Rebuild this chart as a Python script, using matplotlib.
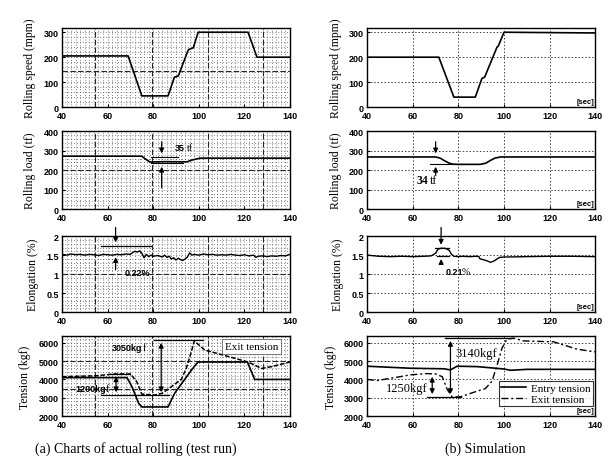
import matplotlib.pyplot as plt
from matplotlib.ticker import MultipleLocator, FormatStrFormatter

# ---- data ----
# (a) actual rolling
t_speed_a = [40, 69, 75, 86.5, 89.3, 91, 95.4, 97.6, 99.7, 121.6, 125.5, 140]
v_speed_a = [205, 205, 45, 45, 120, 125, 230, 238, 300, 300, 200, 200]

t_load_a = [40, 75, 76.5, 78.6, 85, 94.7, 97, 100.5, 140]
v_load_a = [272, 272, 258, 242, 244, 243, 252, 262, 262]

t_elong_a = [40, 42, 44, 46, 48, 50, 52, 54, 56, 58, 60, 62, 64, 66, 68, 70, 71, 72,
             73, 74, 75, 76, 77, 78, 79, 80, 82, 84, 85, 86, 87, 88, 89, 90, 91, 92,
             93, 94, 95, 96, 97, 98, 100, 102, 104, 106, 108, 110, 112, 114, 116, 118,
             120, 122, 124, 125, 126, 128, 130, 132, 134, 136, 138, 140]
v_elong_a = [1.52, 1.50, 1.53, 1.51, 1.52, 1.50, 1.52, 1.51, 1.49, 1.52, 1.51, 1.50,
             1.52, 1.51, 1.53, 1.52, 1.57, 1.60, 1.58, 1.61, 1.55, 1.43, 1.52, 1.46,
             1.50, 1.47, 1.49, 1.45, 1.50, 1.44, 1.47, 1.40, 1.43, 1.37, 1.42, 1.38,
             1.36, 1.40, 1.45, 1.56, 1.50, 1.52, 1.50, 1.53, 1.51, 1.52, 1.50, 1.51,
             1.50, 1.52, 1.50, 1.49, 1.51, 1.48, 1.50, 1.44, 1.47, 1.48, 1.46, 1.48,
             1.47, 1.49, 1.48, 1.52]

t_entry_a = [40, 68.5, 70.7, 73.6, 75, 86.5, 89.4, 93.8, 96.7, 99.6, 121.3, 124.5, 140]
v_entry_a = [4100, 4100, 3600, 2700, 2500, 2500, 3250, 4000, 4500, 4950, 4950, 4000, 4000]

t_exit_a = [40, 55, 63, 70, 72.7, 75, 80.6, 84, 87.9, 92.3, 94.5, 96.7, 98,
            102.6, 110, 121.6, 127.5, 132, 140]
v_exit_a = [4150, 4200, 4300, 4300, 3900, 3200, 3150, 3250, 3600, 4000, 4600, 5500, 6100,
            5600, 5350, 4950, 4600, 4700, 4950]

# (b) simulation
t_speed_b = [40, 71.4, 78, 87.4, 90.3, 91.5, 96.9, 97.5, 100, 140]
v_speed_b = [200, 200, 40, 40, 115, 120, 240, 245, 300, 297]

t_load_b = [40, 70, 72, 74, 76, 77.5, 80, 89.6, 92, 94, 96, 98.4, 140]
v_load_b = [268, 268, 262, 248, 236, 231, 230, 230, 236, 250, 262, 268, 268]

t_elong_b = [40, 45, 50, 55, 60, 65, 68, 70, 71, 72, 74, 75, 76, 77, 78, 80, 82, 85,
             88, 89, 89.5, 91, 92, 93, 94, 95, 96, 97, 98, 100, 110, 120, 130, 140]
v_elong_b = [1.50, 1.47, 1.46, 1.47, 1.46, 1.47, 1.48, 1.55, 1.65, 1.68, 1.68, 1.66,
             1.62, 1.52, 1.47, 1.46, 1.47, 1.46, 1.47, 1.46, 1.40, 1.38, 1.36, 1.34,
             1.31, 1.33, 1.36, 1.40, 1.44, 1.45, 1.46, 1.47, 1.47, 1.46]

t_entry_b = [40, 59, 73.6, 76.5, 79.4, 88.2, 99.9, 102.9, 110, 140]
v_entry_b = [4720, 4610, 4580, 4520, 4720, 4700, 4570, 4500, 4550, 4550]

t_exit_b = [40, 44.4, 52, 59, 66, 70, 72.9, 75, 77.2, 80.8, 86.7, 91.8, 94.7, 96.9,
            99.1, 101.3, 104.2, 108.6, 121.8, 132, 140]
v_exit_b = [4000, 3940, 4100, 4250, 4320, 4300, 4150, 3480, 3050, 3050, 3300, 3500,
            3900, 4750, 5700, 6200, 6250, 6100, 6050, 5650, 5500]

ylabels = ['Rolling speed (mpm)', 'Rolling load (tf)', 'Elongation (%)', 'Tension (kgf)']
ylims = [(0, 316), (0, 400), (0, 2), (2000, 6350)]
ysteps = [100, 100, 0.5, 1000]
paper_y = [[145], [200], [1.0], [5000, 3500]]
paper_x = [54.5, 79.5, 104, 128]

serif = 'Liberation Serif'
sans = 'Liberation Sans'

fig = plt.figure(figsize=(6.08, 4.64), dpi=100)
lefts = [0.102, 0.604]
rows = [(0.767, 0.170), (0.547, 0.168), (0.325, 0.164), (0.101, 0.172)]

axes = {}
for c, left in enumerate(lefts):
    for r, (bot, h) in enumerate(rows):
        ax = fig.add_axes([left, bot, 0.375, h])
        ax.set_xlim(40, 140)
        ax.set_ylim(*ylims[r])
        ax.xaxis.set_major_locator(MultipleLocator(20))
        ax.yaxis.set_major_locator(MultipleLocator(ysteps[r]))
        ax.yaxis.set_major_formatter(FormatStrFormatter('%g'))
        ax.tick_params(direction='in', length=2, width=0.8)
        ax.tick_params(axis='x', pad=3)
        ax.tick_params(axis='y', pad=2.5)
        for lab in ax.get_xticklabels() + ax.get_yticklabels():
            lab.set_fontfamily(sans)
            lab.set_fontweight('bold')
            lab.set_fontsize(6.5)
        for s in ax.spines.values():
            s.set_linewidth(1.0)
        ax.set_ylabel(ylabels[r], family=serif, fontsize=8.5, labelpad=5)
        if c == 0:
            # chart-recorder paper: dense dotted lattice plus darker dashed lines
            ax.xaxis.set_minor_locator(MultipleLocator(2))
            ax.yaxis.set_minor_locator(MultipleLocator(ysteps[r] / 5))
            ax.tick_params(which='minor', length=0)
            ax.grid(which='both', color='0.35', linewidth=0.6, linestyle=(0, (1, 2.5)))
            for xv in paper_x:
                ax.axvline(xv, color='0.15', lw=0.8, ls=(0, (5, 2)), zorder=1)
            for yv in paper_y[r]:
                ax.axhline(yv, color='0.15', lw=0.8, ls=(0, (5, 2)), zorder=1)
        else:
            ax.grid(which='major', color='0.25', linewidth=0.7, linestyle=(0, (1.5, 2)))
            ax.text(139.5, ylims[r][0] + 0.03 * (ylims[r][1] - ylims[r][0]), '[sec]',
                    ha='right', va='bottom', family=sans, fontweight='bold', fontsize=5.5)
        ax.set_axisbelow(True)
        axes[(c, r)] = ax

line_kw = dict(color='black', lw=1.2)
axes[(0, 0)].plot(t_speed_a, v_speed_a, **line_kw)
axes[(1, 0)].plot(t_speed_b, v_speed_b, **line_kw)
axes[(0, 1)].plot(t_load_a, v_load_a, **line_kw)
axes[(1, 1)].plot(t_load_b, v_load_b, **line_kw)
axes[(0, 2)].plot(t_elong_a, v_elong_a, color='black', lw=1.0)
axes[(1, 2)].plot(t_elong_b, v_elong_b, color='black', lw=1.0)
axes[(0, 3)].plot(t_entry_a, v_entry_a, **line_kw)
axes[(0, 3)].plot(t_exit_a, v_exit_a, color='black', lw=1.1, ls=(0, (3, 1.2)))
axes[(1, 3)].plot(t_entry_b, v_entry_b, label='Entry tension', **line_kw)
axes[(1, 3)].plot(t_exit_b, v_exit_b, color='black', lw=1.0, ls=(0, (5, 2, 1.5, 2)),
                  label='Exit tension')

arrow = dict(arrowstyle='-|>', color='black', lw=0.9, mutation_scale=7)
darrow = dict(arrowstyle='<|-|>', color='black', lw=0.9, mutation_scale=7)


def arr(ax, x0, y0, x1, y1, props=arrow):
    ax.annotate('', xy=(x1, y1), xytext=(x0, y0), arrowprops=props,
                annotation_clip=False)


# load annotations
ax = axes[(0, 1)]
arr(ax, 83.7, 360, 83.7, 272)
arr(ax, 83.7, 95, 83.7, 232)
ax.plot([79, 91], [268, 268], color='black', lw=0.8)
ax.plot([79, 93], [235, 235], color='black', lw=0.8)
ax.text(89.5, 318, '35', family=sans, fontweight='bold', fontsize=6.5, va='center')
ax.text(94.8, 318, 'tf', family=serif, fontsize=7, va='center')

ax = axes[(1, 1)]
arr(ax, 70, 360, 70, 272)
arr(ax, 70, 160, 70, 232)
ax.plot([67.5, 78], [230, 230], color='black', lw=0.8)
ax.text(61.5, 150, '34', family=serif, fontweight='bold', fontsize=8.5, va='center')
ax.text(67.4, 150, 'tf', family=serif, fontsize=8.5, va='center')

# elongation annotations
ax = axes[(0, 2)]
arr(ax, 63.5, 2.3, 63.5, 1.76)
arr(ax, 63.5, 1.05, 63.5, 1.52)
ax.plot([57, 79], [1.74, 1.74], color='black', lw=0.9)
ax.text(67.5, 1.05, '0.22%', family=sans, fontweight='bold', fontsize=6.5, va='center')

ax = axes[(1, 2)]
arr(ax, 72.4, 2.3, 72.4, 1.70)
arr(ax, 72.4, 1.22, 72.4, 1.47)
ax.plot([69.8, 75.8], [1.70, 1.70], color='black', lw=0.9)
ax.plot([70.5, 75.8], [1.47, 1.47], color='black', lw=0.9)
ax.text(74.5, 1.08, '0.21', family=sans, fontweight='bold', fontsize=6.5, va='center')
ax.text(81.6, 1.08, '%', family=serif, fontsize=7, va='center')

# tension annotations (a)
ax = axes[(0, 3)]
arr(ax, 83.5, 3150, 83.5, 6150, darrow)
ax.plot([80.5, 102], [6150, 6150], color='black', lw=0.9)
ax.plot([57, 87], [3150, 3150], color='black', lw=0.9)
ax.text(62, 5750, '3050kg', family=sans, fontweight='bold', fontsize=6.5, va='center')
ax.text(75.3, 5750, 'f', family=serif, fontsize=7.5, va='center')
arr(ax, 63.7, 3150, 63.7, 4320, darrow)
ax.plot([61.5, 70], [4320, 4320], color='black', lw=0.9)
ax.text(46, 3500, '1200kg', family=sans, fontweight='bold', fontsize=6.5, va='center')
ax.text(59.3, 3500, 'f', family=serif, fontsize=7.5, va='center')
ax.text(123, 5800, 'Exit tension', family=serif, fontsize=8, ha='center', va='center',
        bbox=dict(boxstyle='square,pad=0.25', fc='white', ec='0.3', lw=0.5))

# tension annotations (b)
ax = axes[(1, 3)]
arr(ax, 76.5, 3050, 76.5, 6250, darrow)
ax.plot([74, 104], [6250, 6250], color='black', lw=0.9)
ax.plot([66, 81], [3050, 3050], color='black', lw=0.9)
arr(ax, 68.5, 3050, 68.5, 4300, darrow)
ax.text(48, 3550, '1250kgf', family=serif, fontsize=9, va='center')
ax.text(78.7, 5450, '3140kgf', family=serif, fontsize=9, va='center')
leg = ax.legend(loc='lower right', bbox_to_anchor=(1.0, 0.1), prop=dict(family=serif, size=8),
                frameon=True, fancybox=False, edgecolor='black', handlelength=2.2,
                borderpad=0.2, labelspacing=0.1, handletextpad=0.5, borderaxespad=0.2)
leg.get_frame().set_linewidth(0.8)

fig.text(0.223, 0.017, '(a) Charts of actual rolling (test run)', family=serif,
         fontsize=10, ha='center', va='bottom')
fig.text(0.799, 0.017, '(b) Simulation', family=serif, fontsize=10, ha='center', va='bottom')

fig.savefig('out.png', dpi=100)
